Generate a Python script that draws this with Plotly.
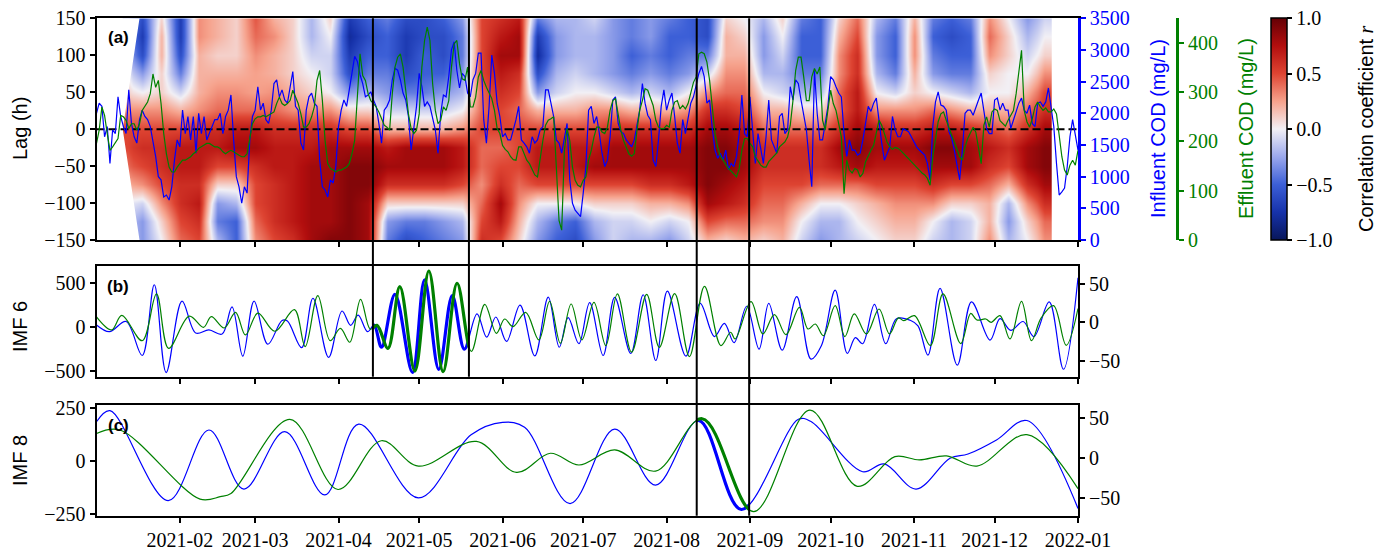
import numpy as np
import pandas as pd
import plotly.graph_objects as go

# ---------------------------------------------------------------- data
START = "2021-01-01"
END = "2022-01-01"

# panel (a): daily COD series, one value per day starting 2021-01-01
INFLUENT_COD = [
    2000, 2160, 2110, 1630, 1790, 1210, 1740, 1680, 2260, 1950,
    1790, 1680, 2370, 1840, 1630, 1530, 1900, 2050, 1950, 1900,
    1790, 1580, 1320, 1000, 950, 680, 710, 630, 840, 1260,
    1580, 1470, 2050, 1680, 1950, 1580, 1950, 1370, 2000, 1680,
    1950, 1580, 1680, 1790, 1900, 1900, 2000, 1680, 1950, 2050,
    2290, 1580, 1000, 840, 580, 840, 740, 1580, 1950, 2050,
    2420, 2050, 2160, 1900, 1840, 2050, 2470, 2530, 2260, 2370,
    2210, 2160, 2420, 2660, 2110, 2050, 1530, 1420, 2050, 2260,
    2320, 2160, 2110, 1260, 840, 790, 680, 950, 900, 1160,
    1790, 2050, 2210, 2110, 2370, 2660, 2900, 2820, 2610, 2470,
    2260, 2290, 2340, 2210, 2110, 1840, 1530, 2050, 2110, 2210,
    2530, 2710, 2680, 2530, 2320, 2210, 1950, 1420, 1740, 2110,
    2630, 2420, 2110, 2180, 2110, 1920, 1740, 1370, 2000, 2290,
    2260, 2580, 3000, 3130, 2680, 2400, 2630, 2580, 2320, 2260,
    2530, 2630, 2950, 2950, 1900, 1530, 2110, 2920, 2630, 2160,
    1950, 1630, 1680, 1580, 1580, 1740, 1900, 2110, 1580, 1530,
    1470, 1370, 1630, 1530, 1580, 1740, 1790, 2370, 2370, 2160,
    1950, 1580, 1530, 1370, 1580, 1840, 950, 580, 470, 420,
    370, 740, 1160, 2050, 2110, 1840, 1950, 1680, 1370, 1160,
    1260, 1630, 2210, 2260, 1840, 1710, 1680, 1580, 1530, 1470,
    1580, 1840, 2050, 2470, 2160, 1970, 1900, 1260, 1160, 1580,
    2110, 2370, 2050, 2210, 2320, 1950, 1530, 1370, 1900, 1680,
    1900, 2160, 2260, 2470, 2630, 2740, 2580, 2160, 2210, 1760,
    1420, 1290, 1370, 1260, 1420, 1110, 1210, 1160, 1320, 1680,
    2290, 1680, 1630, 2260, 1790, 1210, 1680, 1420, 1210, 1630,
    2210, 1580, 1470, 1370, 1950, 2000, 1680, 1740, 2420, 2210,
    2530, 2470, 2210, 2000, 1740, 1260, 840, 2680, 2000, 1580,
    1580, 1840, 2110, 2580, 2530, 2420, 2320, 2260, 1680, 1320,
    1580, 1420, 1420, 1340, 1370, 1580, 1840, 2110, 2030, 2160,
    2240, 1840, 1530, 1260, 1370, 1470, 1950, 1740, 1630, 1630,
    1760, 1740, 1710, 1630, 1550, 1470, 1420, 1380, 1340, 1210,
    950, 1790, 2180, 2340, 2130, 2110, 2050, 1710, 1610, 1420,
    1160, 950, 1420, 2000, 2050, 2050, 1970, 2110, 2210, 2320,
    2050, 1760, 1680, 1680, 2210, 2240, 2050, 2160, 2050, 2050,
    1760, 1900, 2050, 2160, 2240, 2050, 2000, 2130, 1840, 1790,
    2160, 2180, 2110, 2180, 2400, 2050, 1790, 1210, 710, 760,
    820, 1160, 1630, 1900, 1630, 1420]

EFFLUENT_COD = [
    196, 223, 270, 253, 216, 182, 189, 199, 206, 253,
    250, 243, 226, 236, 236, 223, 236, 263, 273, 280,
    297, 337, 310, 324, 277, 216, 175, 148, 138, 138,
    148, 155, 162, 162, 165, 169, 175, 179, 186, 189,
    192, 196, 196, 192, 189, 189, 186, 179, 175, 179,
    182, 179, 175, 172, 169, 169, 175, 202, 236, 246,
    250, 250, 253, 250, 253, 256, 260, 277, 290, 277,
    273, 277, 283, 304, 290, 277, 256, 229, 229, 236,
    250, 270, 324, 344, 283, 202, 155, 145, 142, 138,
    142, 142, 145, 148, 155, 175, 202, 283, 378, 334,
    324, 297, 283, 277, 270, 260, 246, 233, 229, 223,
    297, 351, 371, 378, 351, 297, 256, 226, 216, 223,
    256, 351, 405, 432, 405, 317, 263, 236, 243, 270,
    263, 283, 351, 398, 405, 358, 327, 324, 351, 270,
    270, 290, 331, 344, 324, 310, 300, 287, 263, 226,
    216, 192, 184, 179, 169, 163, 162, 189, 189, 175,
    162, 155, 142, 132, 128, 169, 202, 233, 243, 246,
    250, 148, 40, 20, 182, 226, 202, 148, 121, 111,
    108, 121, 128, 162, 182, 209, 229, 229, 219, 216,
    229, 263, 283, 287, 250, 223, 202, 189, 175, 170,
    175, 223, 263, 283, 307, 304, 290, 273, 243, 229,
    226, 226, 233, 229, 263, 280, 283, 266, 273, 266,
    277, 297, 320, 331, 378, 381, 378, 361, 324, 270,
    216, 189, 169, 162, 152, 145, 140, 134, 128, 145,
    182, 206, 206, 196, 189, 169, 159, 152, 148, 148,
    159, 165, 172, 177, 189, 194, 199, 209, 233, 283,
    344, 371, 371, 331, 283, 283, 331, 348, 337, 351,
    243, 223, 270, 304, 277, 263, 236, 209, 94, 162,
    142, 136, 145, 142, 128, 135, 159, 172, 182, 192,
    216, 243, 233, 216, 199, 189, 184, 188, 186, 182,
    177, 171, 165, 159, 154, 148, 142, 136, 132, 125,
    111, 169, 209, 240, 256, 260, 243, 226, 213, 199,
    182, 169, 162, 189, 206, 219, 229, 219, 182, 155,
    233, 250, 229, 260, 266, 263, 242, 236, 231, 243,
    253, 263, 297, 344, 385, 263, 240, 229, 246, 270,
    280, 270, 263, 268, 260, 260, 266, 256, 209, 169,
    142, 132, 152, 162, 152, 182]

# panel (a): lagged correlation map (each row: one day, lags +150 h ... -150 h)
LAG_H = [150, 125, 100, 75, 50, 25, 0, -25, -50, -75, -100, -125, -150]
CORR_START_DAY = 9.75   # first day with a valid window (at lag 0)
CORR_END_DAY = 355.4    # last day with a valid window
CORR_DAYS = [10, 17, 24, 31, 38, 45, 52, 59, 66, 73, 80, 87, 94, 101, 108, 115,
             122, 129, 136, 143, 150, 157, 164, 171, 178, 185, 192, 199, 206,
             213, 220, 227, 234, 241, 248, 255, 262, 269, 276, 283, 290, 297,
             304, 311, 318, 325, 332, 339, 346, 353]
CORR_R = [
    [-0.2, -0.2, -0.1, 0.0, 0.1, 0.3, 0.5, 0.5, 0.4, 0.2, 0.0, -0.1, -0.1],
    [-0.6, -0.7, -0.6, -0.3, 0.0, 0.3, 0.5, 0.6, 0.5, 0.3, -0.1, -0.3, -0.3],
    [0.1, 0.2, 0.2, 0.1, 0.1, 0.3, 0.5, 0.6, 0.6, 0.5, 0.3, 0.1, 0.0],
    [-0.7, -0.7, -0.6, -0.4, -0.1, 0.2, 0.5, 0.7, 0.7, 0.6, 0.6, 0.5, 0.4],
    [0.3, 0.3, 0.2, 0.2, 0.2, 0.3, 0.6, 0.7, 0.7, 0.6, 0.7, 0.6, 0.5],
    [0.2, 0.2, 0.1, 0.2, 0.3, 0.4, 0.6, 0.7, 0.5, 0.1, -0.3, -0.4, -0.2],
    [0.1, 0.1, 0.1, 0.2, 0.3, 0.4, 0.7, 0.8, 0.5, 0.1, -0.2, -0.5, -0.5],
    [0.45, 0.4, 0.3, 0.25, 0.25, 0.4, 0.7, 0.8, 0.6, 0.5, 0.5, 0.4, 0.3],
    [0.2, 0.3, 0.2, 0.2, 0.3, 0.4, 0.6, 0.7, 0.7, 0.6, 0.6, 0.6, 0.5],
    [0.1, 0.1, 0.1, 0.1, 0.2, 0.3, 0.6, 0.7, 0.7, 0.7, 0.7, 0.7, 0.6],
    [-0.2, -0.2, -0.1, 0.0, 0.1, 0.3, 0.6, 0.7, 0.8, 0.8, 0.8, 0.8, 0.8],
    [0.1, 0.0, -0.1, -0.1, 0.0, 0.3, 0.6, 0.8, 0.8, 0.8, 0.8, 0.8, 0.9],
    [-0.7, -0.8, -0.7, -0.6, -0.3, 0.1, 0.5, 0.8, 0.9, 0.9, 0.9, 0.9, 0.9],
    [-0.5, -0.6, -0.5, -0.4, -0.2, 0.1, 0.5, 0.8, 0.9, 0.9, 0.8, 0.8, 0.8],
    [-0.4, -0.5, -0.5, -0.4, -0.3, -0.1, 0.2, 0.7, 0.8, 0.6, 0.1, -0.3, -0.4],
    [-0.6, -0.7, -0.7, -0.6, -0.4, -0.1, 0.2, 0.8, 0.8, 0.6, 0.1, -0.4, -0.6],
    [-0.6, -0.6, -0.5, -0.5, -0.4, -0.1, 0.2, 0.8, 0.8, 0.6, 0.1, -0.4, -0.5],
    [-0.5, -0.6, -0.6, -0.5, -0.3, -0.1, 0.2, 0.8, 0.8, 0.6, 0.1, -0.3, -0.4],
    [-0.3, -0.4, -0.4, -0.3, -0.2, 0.0, 0.3, 0.7, 0.7, 0.5, 0.1, -0.2, -0.3],
    [0.5, 0.5, 0.5, 0.5, 0.4, 0.4, 0.5, 0.4, 0.4, 0.3, 0.4, 0.5, 0.6],
    [0.6, 0.7, 0.8, 0.7, 0.6, 0.5, 0.5, 0.4, 0.5, 0.6, 0.8, 0.7, 0.5],
    [0.7, 0.8, 0.8, 0.6, 0.5, 0.4, 0.5, 0.5, 0.5, 0.4, 0.3, 0.2, 0.1],
    [-0.4, -0.7, -0.8, -0.6, -0.3, 0.2, 0.5, 0.7, 0.7, 0.5, 0.0, -0.2, -0.3],
    [-0.2, -0.3, -0.3, -0.2, -0.1, 0.2, 0.5, 0.7, 0.7, 0.5, 0.0, -0.4, -0.5],
    [-0.2, -0.2, -0.2, -0.1, 0.0, 0.2, 0.5, 0.7, 0.7, 0.5, 0.0, -0.5, -0.6],
    [-0.1, -0.2, -0.2, -0.2, 0.0, 0.3, 0.5, 0.7, 0.8, 0.5, 0.1, -0.2, -0.3],
    [-0.3, -0.3, -0.3, -0.3, -0.1, 0.3, 0.6, 0.8, 0.8, 0.5, 0.1, -0.1, -0.1],
    [-0.4, -0.4, -0.5, -0.4, -0.2, 0.2, 0.6, 0.8, 0.8, 0.5, 0.1, -0.1, -0.2],
    [-0.3, -0.3, -0.4, -0.3, -0.1, 0.2, 0.6, 0.8, 0.8, 0.6, 0.2, 0.0, -0.2],
    [-0.4, -0.5, -0.5, -0.4, -0.2, 0.2, 0.6, 0.8, 0.8, 0.6, 0.2, -0.1, -0.3],
    [-0.5, -0.5, -0.4, -0.3, 0.0, 0.3, 0.6, 0.8, 0.8, 0.7, 0.3, 0.0, -0.1],
    [-0.6, -0.6, -0.4, -0.1, 0.3, 0.6, 0.8, 0.9, 0.9, 0.9, 0.8, 0.5, 0.2],
    [0.1, 0.2, 0.2, 0.3, 0.4, 0.6, 0.8, 0.9, 0.9, 0.8, 0.7, 0.4, 0.1],
    [0.0, 0.1, 0.2, 0.3, 0.4, 0.5, 0.7, 0.8, 0.8, 0.7, 0.6, 0.4, 0.2],
    [-0.2, -0.3, -0.3, -0.2, 0.0, 0.2, 0.4, 0.6, 0.6, 0.5, 0.4, 0.3, 0.1],
    [0.1, 0.0, -0.1, -0.2, -0.1, 0.2, 0.4, 0.6, 0.6, 0.5, 0.4, 0.3, 0.2],
    [-0.4, -0.5, -0.5, -0.4, -0.2, 0.1, 0.4, 0.6, 0.6, 0.5, 0.2, 0.0, -0.1],
    [-0.5, -0.5, -0.5, -0.4, -0.2, 0.1, 0.4, 0.6, 0.6, 0.4, 0.0, -0.2, -0.3],
    [0.1, 0.2, 0.3, 0.3, 0.4, 0.4, 0.6, 0.8, 0.7, 0.4, 0.0, -0.2, -0.2],
    [0.4, 0.5, 0.6, 0.6, 0.7, 0.7, 0.8, 0.9, 0.8, 0.4, 0.1, 0.0, -0.1],
    [-0.2, -0.3, -0.3, -0.2, 0.0, 0.3, 0.7, 0.8, 0.7, 0.5, 0.2, 0.1, 0.0],
    [-0.4, -0.5, -0.5, -0.4, -0.1, 0.3, 0.6, 0.8, 0.7, 0.5, 0.3, 0.2, 0.1],
    [0.2, 0.3, 0.3, 0.2, 0.1, 0.3, 0.6, 0.8, 0.7, 0.5, 0.3, 0.2, 0.1],
    [-0.4, -0.5, -0.4, -0.3, 0.0, 0.4, 0.7, 0.9, 0.8, 0.6, 0.3, 0.0, -0.1],
    [-0.5, -0.6, -0.5, -0.4, -0.1, 0.3, 0.7, 0.9, 0.8, 0.5, 0.1, -0.2, -0.2],
    [-0.4, -0.5, -0.5, -0.4, -0.2, 0.2, 0.6, 0.8, 0.8, 0.5, 0.1, -0.1, -0.1],
    [0.3, 0.4, 0.3, 0.1, 0.0, 0.2, 0.5, 0.7, 0.6, 0.4, 0.2, 0.2, 0.3],
    [0.0, 0.1, 0.1, 0.0, 0.0, 0.2, 0.4, 0.6, 0.5, 0.2, -0.2, -0.3, -0.2],
    [-0.3, -0.2, -0.1, 0.0, 0.2, 0.4, 0.6, 0.8, 0.8, 0.6, 0.3, 0.1, 0.0],
    [-0.1, 0.0, 0.1, 0.3, 0.5, 0.6, 0.8, 0.9, 0.9, 0.8, 0.6, 0.4, 0.3],
]

# panel (b): IMF 6 turning points (day of year, value)
IMF6_IN_DAY = [0, 4.8, 11, 17.0, 21.5, 25.9, 31.8, 36.9, 41.8, 46.7,
               50.4, 54.4, 58.6, 63.7, 69.0, 71.0, 76.3, 80.5, 86.3, 91.3,
               94.5, 97.3, 100.8, 103.2, 106.0, 111.0, 117.5, 122.0, 127.3, 132.3,
               136.8, 141.5, 145.1, 148.5, 152.5, 157.5, 163.0, 168.0, 172.1, 175.4,
               179.4, 183.4, 188.4, 192.7, 198.7, 203.3, 208.0, 212.3, 219.2, 224.5,
               229.8, 233.5, 237.1, 241.8, 246.4, 250.0, 255.0, 260.4, 265.7, 269.6,
               274.7, 279.2, 282.2, 284.9, 289.3, 293.5, 297.5, 302.8, 305.5, 309.2,
               313.7, 320.1, 325.4, 332.3, 336.0, 340.0, 344.6, 348.6, 354.3, 359.6,
               365]
IMF6_IN = [26, -50, 65, -319, 481, -512, 296, -65, -30, -77,
           231, -327, 296, -192, 77, 70, -231, 328, -340, 184,
           22, 137, -50, 25, -225, 373, -510, 537, -476, 358,
           -248, 152, -112, 116, -160, 251, -324, 340, -226, 109,
           -186, 279, -319, 339, -295, 368, -376, 408, -327, 271,
           -105, 44, -174, 238, -246, 271, -259, 347, -360, -206,
           420, -295, -117, -186, 259, -186, 97, 77, 16, -315,
           440, -428, 287, -145, 97, -36, 65, -105, 287, -475,
           560]
IMF6_EF_DAY = [0, 5.6, 9.4, 17.0, 22.3, 26.8, 34.5, 39.8, 42.7, 47.5,
               51.7, 55.4, 60.0, 66.3, 73.6, 77.6, 82.3, 86.9, 90.7, 94.2,
               98.2, 101.8, 104.3, 108.4, 112.8, 118.4, 123.6, 128.9, 134.1, 139.4,
               144.4, 148.7, 151.8, 154.9, 159.6, 164.5, 168.5, 172.5, 176.5, 180.5,
               185.0, 189.4, 193.7, 199.0, 204.6, 209.3, 215.0, 220.5, 226.1, 232.2,
               235.8, 237.5, 243.4, 247.8, 252.1, 256.4, 261.4, 264.6, 267.3, 270.3,
               274.7, 278.3, 281.8, 286.3, 291.0, 294.9, 298.2, 300.2, 304.2, 310.1,
               314.8, 321.4, 325.1, 327.4, 330.7, 332.7, 336.0, 339.7, 344.0, 347.7,
               351.3, 355.9, 360.6, 365]
IMF6_EF = [7, -10, 9, -24, 37, -34, 8, -6.5, 7.4, -7.4,
           13, -16.5, 12, -11.7, 16.5, -31.7, 34.8, -24, -8, -26,
           30, -9, -4, -34, 46.5, -63.6, 67, -64.5, 51, -38,
           23.5, -14.4, 4.3, -5.7, 13, -23, 27.4, -27.4, 23.9, -23,
           26, -30.4, 37, -39, 36.5, -32.6, 37.4, -44.8, 47, -30.4,
           -13, -21.7, 27, -15.2, 10, -16, 19.6, -8.7, -2.2, -17.4,
           21.7, -18.7, 10.9, -15.2, 17.4, -15.2, 5.7, 2.2, 8.7, -30.4,
           37, -27.8, 11.7, 3, 4.3, 0, 8.7, -21.7, 27.4, -23.9,
           5.7, 21.7, -30, 18]

# panel (c): IMF 8 turning points (day of year, value)
IMF8_IN_DAY = [0, 5.0, 26.7, 41.8, 54.8, 70.0, 84.9, 97.5, 119.7, 139.3, 151.0,
               159.2, 176.1, 192.7, 207.9, 223.9, 239.8, 261.0, 265.7, 284.9,
               292.9, 304.8, 317.4, 324.1, 334.7, 346.0, 365]
IMF8_IN = [186, 239, -188, 147, -133, 139, -161, 175, -175, 124, 183,
           160, -202, 151, -114, 192, -230, 198, 187, -51,
           -14, -133, 13, 33, 100, 192, -225]
IMF8_EF_DAY = [0, 8.7, 38.5, 46.0, 50.0, 71.9, 89.8, 105.9, 119.7, 141.3, 156.2,
               168.8, 179.4, 192.7, 207.9, 225.2, 244.4, 265.3, 282.9, 296.9,
               306.0, 316.1, 327.4, 346.0, 365]
IMF8_EF = [31, 35.4, -51, -48, -44, 48.7, -39, 21.9, -9.7, 21.1, -17.7,
           6.3, -8.4, 10.5, -16, 49.4, -66.7, 60.3, -35, 2.1,
           -2, 3, -9.7, 29.5, -38]

# highlighted windows
WIN_B = ["2021-04-13 19:00", "2021-05-19 12:00"]
WIN_C = ["2021-08-12 05:00", "2021-08-31 17:00"]

MONTH_TICKS = ["2021-02-01", "2021-03-01", "2021-04-01", "2021-05-01", "2021-06-01",
               "2021-07-01", "2021-08-01", "2021-09-01", "2021-10-01", "2021-11-01",
               "2021-12-01", "2022-01-01"]
MONTH_LABELS = ["2021-02", "2021-03", "2021-04", "2021-05", "2021-06", "2021-07",
                "2021-08", "2021-09", "2021-10", "2021-11", "2021-12", "2022-01"]

# ---------------------------------------------------------------- helpers
BLUE = "#0000ff"
GREEN = "#008000"
SERIF = "Liberation Serif"
SANS = "Liberation Sans"
W, H = 1386, 552
T0, T1 = pd.Timestamp(START), pd.Timestamp(END)


def fx(p):
    return p / W


def fy(p):
    return 1 - p / H


def to_dates(days):
    return T0 + pd.to_timedelta(np.asarray(days, dtype=float), unit="D")


XD = [fx(96.5), fx(1078)]
DA = [fy(240), fy(18.3)]
DB = [fy(376.7), fy(266)]
DC = [fy(515.7), fy(405)]


def frac(ts):
    return XD[0] + (pd.Timestamp(ts) - T0) / (T1 - T0) * (XD[1] - XD[0])


def window_subset(days, vals, win):
    d = np.asarray(days, float)
    w0 = (pd.Timestamp(win[0]) - T0) / pd.Timedelta(days=1)
    w1 = (pd.Timestamp(win[1]) - T0) / pd.Timedelta(days=1)
    i0 = max(0, int(np.searchsorted(d, w0)) - 3)
    i1 = min(len(d), int(np.searchsorted(d, w1)) + 3)
    return list(d[i0:i1]), list(vals[i0:i1])


CS = [[0.0, "rgb(8,22,90)"], [0.125, "rgb(22,50,170)"], [0.25, "rgb(60,95,215)"],
      [0.375, "rgb(155,168,236)"], [0.5, "rgb(242,240,245)"],
      [0.625, "rgb(246,162,140)"], [0.75, "rgb(222,68,50)"],
      [0.875, "rgb(178,14,14)"], [1.0, "rgb(100,0,5)"]]

fig = go.Figure()

# ---------------------------------------------------------------- panel (a)
z = np.array(CORR_R, dtype=float).T[::-1]
lags = LAG_H[::-1]
cd = np.asarray(CORR_DAYS, float)
edges = np.concatenate([[CORR_START_DAY], (cd[:-1] + cd[1:]) / 2, [CORR_END_DAY]])
fig.add_trace(go.Heatmap(
    x=to_dates(edges), y=lags, z=z, zmin=-1, zmax=1, zsmooth="best",
    colorscale=CS, xaxis="x", yaxis="y", hoverinfo="skip",
    colorbar=dict(x=fx(1271), xanchor="left", xref="paper", xpad=0, ypad=0,
                  y=(DA[0] + DA[1]) / 2, yanchor="middle", yref="paper",
                  len=DA[1] - DA[0], lenmode="fraction",
                  thickness=16, thicknessmode="pixels",
                  outlinewidth=1.5, outlinecolor="black",
                  tickvals=[-1, -0.5, 0, 0.5, 1], tickformat=".1f",
                  ticks="outside", ticklen=5, tickwidth=2, tickcolor="black",
                  tickfont=dict(family=SERIF, size=20, color="black"))))

# blank wedge where the lagged window is not yet available
lag_max = max(LAG_H)
lag_min = min(LAG_H)
fig.add_trace(go.Scatter(
    x=to_dates([0, CORR_START_DAY + lag_max / 24.0, CORR_START_DAY,
                CORR_START_DAY + abs(lag_min) / 24.0, 0]),
    y=[lag_max, lag_max, 0, lag_min, lag_min], fill="toself",
    fillcolor="white", mode="lines", line=dict(width=0, color="white"),
    xaxis="x", yaxis="y", hoverinfo="skip", showlegend=False))

fig.add_trace(go.Scatter(
    x=[T0, T1], y=[0, 0], mode="lines", xaxis="x", yaxis="y",
    line=dict(color="black", width=2, dash="8px,4px"), hoverinfo="skip",
    showlegend=False))

daily = to_dates(np.arange(len(INFLUENT_COD)))
fig.add_trace(go.Scatter(x=daily, y=INFLUENT_COD, mode="lines", xaxis="x",
                         yaxis="y2", line=dict(color=BLUE, width=1.2),
                         showlegend=False))
fig.add_trace(go.Scatter(x=daily, y=EFFLUENT_COD, mode="lines", xaxis="x",
                         yaxis="y3", line=dict(color=GREEN, width=1.2),
                         showlegend=False))


# ---------------------------------------------------------------- panels (b), (c)
def add_imf(days, vals, color, xa, ya, xa_thick, win):
    fig.add_trace(go.Scatter(x=to_dates(days), y=vals, mode="lines", xaxis=xa,
                             yaxis=ya, showlegend=False,
                             line=dict(color=color, width=1.2, shape="spline",
                                       smoothing=1.0, simplify=False)))
    sd, sv = window_subset(days, vals, win)
    fig.add_trace(go.Scatter(x=to_dates(sd), y=sv, mode="lines", xaxis=xa_thick,
                             yaxis=ya, showlegend=False,
                             line=dict(color=color, width=3.2, shape="spline",
                                       smoothing=1.0, simplify=False)))


add_imf(IMF6_IN_DAY, IMF6_IN, BLUE, "x2", "y4", "x4", WIN_B)
add_imf(IMF6_EF_DAY, IMF6_EF, GREEN, "x2", "y5", "x4", WIN_B)
add_imf(IMF8_IN_DAY, IMF8_IN, BLUE, "x3", "y6", "x5", WIN_C)
add_imf(IMF8_EF_DAY, IMF8_EF, GREEN, "x3", "y7", "x5", WIN_C)

# ---------------------------------------------------------------- axes
tickfont = dict(family=SERIF, size=20, color="black")
base = dict(showline=True, linecolor="black", linewidth=2, ticks="outside",
            ticklen=5, tickwidth=2, tickcolor="black", showgrid=False,
            zeroline=False, tickfont=tickfont, automargin=False)
xbase = dict(base, type="date", domain=XD, range=[T0, T1], tickvals=MONTH_TICKS,
             ticktext=MONTH_LABELS, mirror=True)


def colored(color, **kw):
    d = dict(base, linecolor=color, tickcolor=color, linewidth=2.5,
             tickfont=dict(family=SERIF, size=20, color=color))
    d.update(kw)
    return d


fig.update_layout(
    width=W, height=H, margin=dict(l=0, r=0, t=0, b=0, autoexpand=False),
    paper_bgcolor="white", plot_bgcolor="rgba(0,0,0,0)", showlegend=False,
    font=dict(family=SERIF, size=20, color="black"),
    xaxis=dict(xbase, anchor="y", showticklabels=False),
    xaxis2=dict(xbase, anchor="y4", showticklabels=False, matches="x"),
    xaxis3=dict(xbase, anchor="y6", showticklabels=True, matches="x",
                ticklabelstandoff=0),
    xaxis4=dict(type="date", domain=[frac(WIN_B[0]), frac(WIN_B[1])],
                range=WIN_B, visible=False, anchor="y4", automargin=False),
    xaxis5=dict(type="date", domain=[frac(WIN_C[0]), frac(WIN_C[1])],
                range=WIN_C, visible=False, anchor="y6", automargin=False),
    yaxis=dict(base, domain=DA, range=[-150, 150], anchor="x",
               tickvals=[-150, -100, -50, 0, 50, 100, 150]),
    yaxis2=colored(BLUE, overlaying="y", side="right", anchor="x",
                   range=[0, 3500], tickvals=list(range(0, 3501, 500))),
    yaxis3=colored(GREEN, overlaying="y", side="right", anchor="free",
                   position=fx(1177.3), range=[0, 450],
                   tickvals=[0, 100, 200, 300, 400]),
    yaxis4=dict(base, domain=DB, range=[-559, 693], anchor="x2",
                tickvals=[-500, 0, 500]),
    yaxis5=dict(base, overlaying="y4", side="right", anchor="x2",
                range=[-71, 73.5], tickvals=[-50, 0, 50]),
    yaxis6=dict(base, domain=DC, range=[-259.5, 265.6], anchor="x3",
                tickvals=[-250, 0, 250]),
    yaxis7=dict(base, overlaying="y6", side="right", anchor="x3",
                range=[-71.75, 66.6], tickvals=[-50, 0, 50]),
)

# ---------------------------------------------------------------- window lines
shapes = []
for w in WIN_B:
    shapes.append(dict(type="line", xref="x", yref="paper", x0=w, x1=w,
                       y0=DB[0], y1=DA[1], line=dict(color="black", width=2)))
for w in WIN_C:
    shapes.append(dict(type="line", xref="x", yref="paper", x0=w, x1=w,
                       y0=DC[0], y1=DA[1], line=dict(color="black", width=2)))
fig.update_layout(shapes=shapes)


# ---------------------------------------------------------------- text
def ann(text, x, y, color="black", size=20, angle=0, family=SANS):
    return dict(text=text, x=fx(x), y=fy(y), xref="paper", yref="paper",
                showarrow=False, textangle=angle, xanchor="center",
                yanchor="middle", font=dict(family=family, size=size, color=color))


fig.update_layout(annotations=[
    ann("<b>(a)</b>", 118, 38, size=17),
    ann("<b>(b)</b>", 118, 286, size=17),
    ann("<b>(c)</b>", 118, 425, size=17),
    ann("Lag (h)", 20, 129, angle=-90),
    ann("IMF 6", 20, 327, angle=-90),
    ann("IMF 8", 20, 461, angle=-90),
    ann("Influent COD (mg/L)", 1158, 129, color=BLUE, angle=-90),
    ann("Effluent COD (mg/L)", 1246, 129, color=GREEN, angle=-90),
    ann("Correlation coefficient <span style='font-family:Liberation Serif'>"
        "<i>r</i></span>", 1366, 129, angle=-90),
])

fig.write_html("out.html")
